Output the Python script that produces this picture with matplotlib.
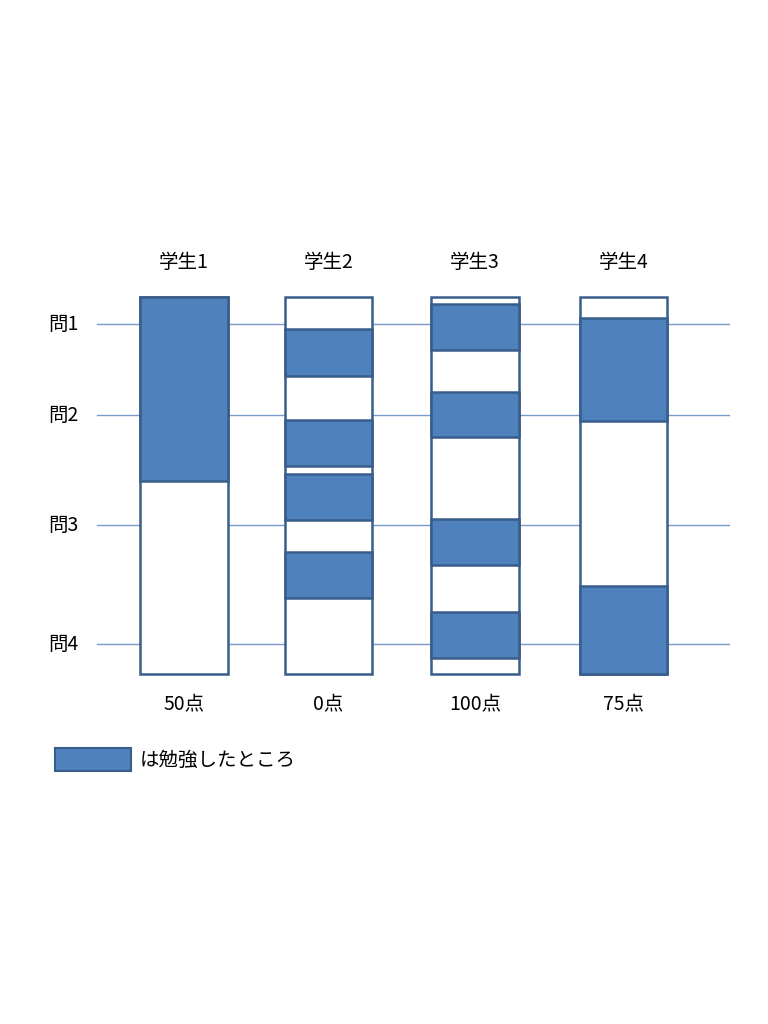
import matplotlib.pyplot as plt
from matplotlib.patches import Rectangle

plt.rcParams['font.family'] = ['Noto Sans CJK JP', 'DejaVu Sans']

# data (vertical positions measured on the sheet, top = 297, bottom = 674)
students = ['学生1', '学生2', '学生3', '学生4']
scores = ['50点', '0点', '100点', '75点']
questions = ['問1', '問2', '問3', '問4']
question_pos = [324, 415, 525, 644]
col_top, col_bottom = 297, 674
studied = [
    [(297, 481)],
    [(329, 376), (420, 466), (474, 520), (552, 598)],
    [(304, 350), (392, 437), (519, 565), (612, 658)],
    [(318, 421), (586, 674)],
]
legend_text = 'は勉強したところ'

blue = '#4F81BD'
edge = '#385D8A'
line_col = '#7A9CCB'

fig = plt.figure(figsize=(7.68, 10.24), dpi=100)
ax = fig.add_axes([0, 0, 1, 1])
ax.set_xlim(0, 768)
ax.set_ylim(1024, 0)
ax.axis('off')

centers = [184, 328.5, 475, 623.5]
width = 87.5

# question lines
for q, y in zip(questions, question_pos):
    ax.plot([97, 729], [y, y], color=line_col, lw=1, zorder=1)
    ax.text(48, y, q, fontsize=14, ha='left', va='center')

for i, name in enumerate(students):
    xc = centers[i]
    x0 = xc - width / 2
    ax.add_patch(Rectangle((x0, col_top), width, col_bottom - col_top,
                           facecolor='white', edgecolor=edge, lw=1.8, zorder=2))
    for a, b in studied[i]:
        ax.add_patch(Rectangle((x0, a), width, b - a,
                               facecolor=blue, edgecolor=edge, lw=1.8, zorder=3))
    ax.text(xc, 262, name, fontsize=14, ha='center', va='center')
    ax.text(xc, 705, scores[i], fontsize=14, ha='center', va='center')

# legend box
ax.add_patch(Rectangle((55, 748), 76, 23, facecolor=blue, edgecolor=edge, lw=1.5))
ax.text(140, 760, legend_text, fontsize=14, ha='left', va='center')

fig.savefig('out.png', dpi=100)
